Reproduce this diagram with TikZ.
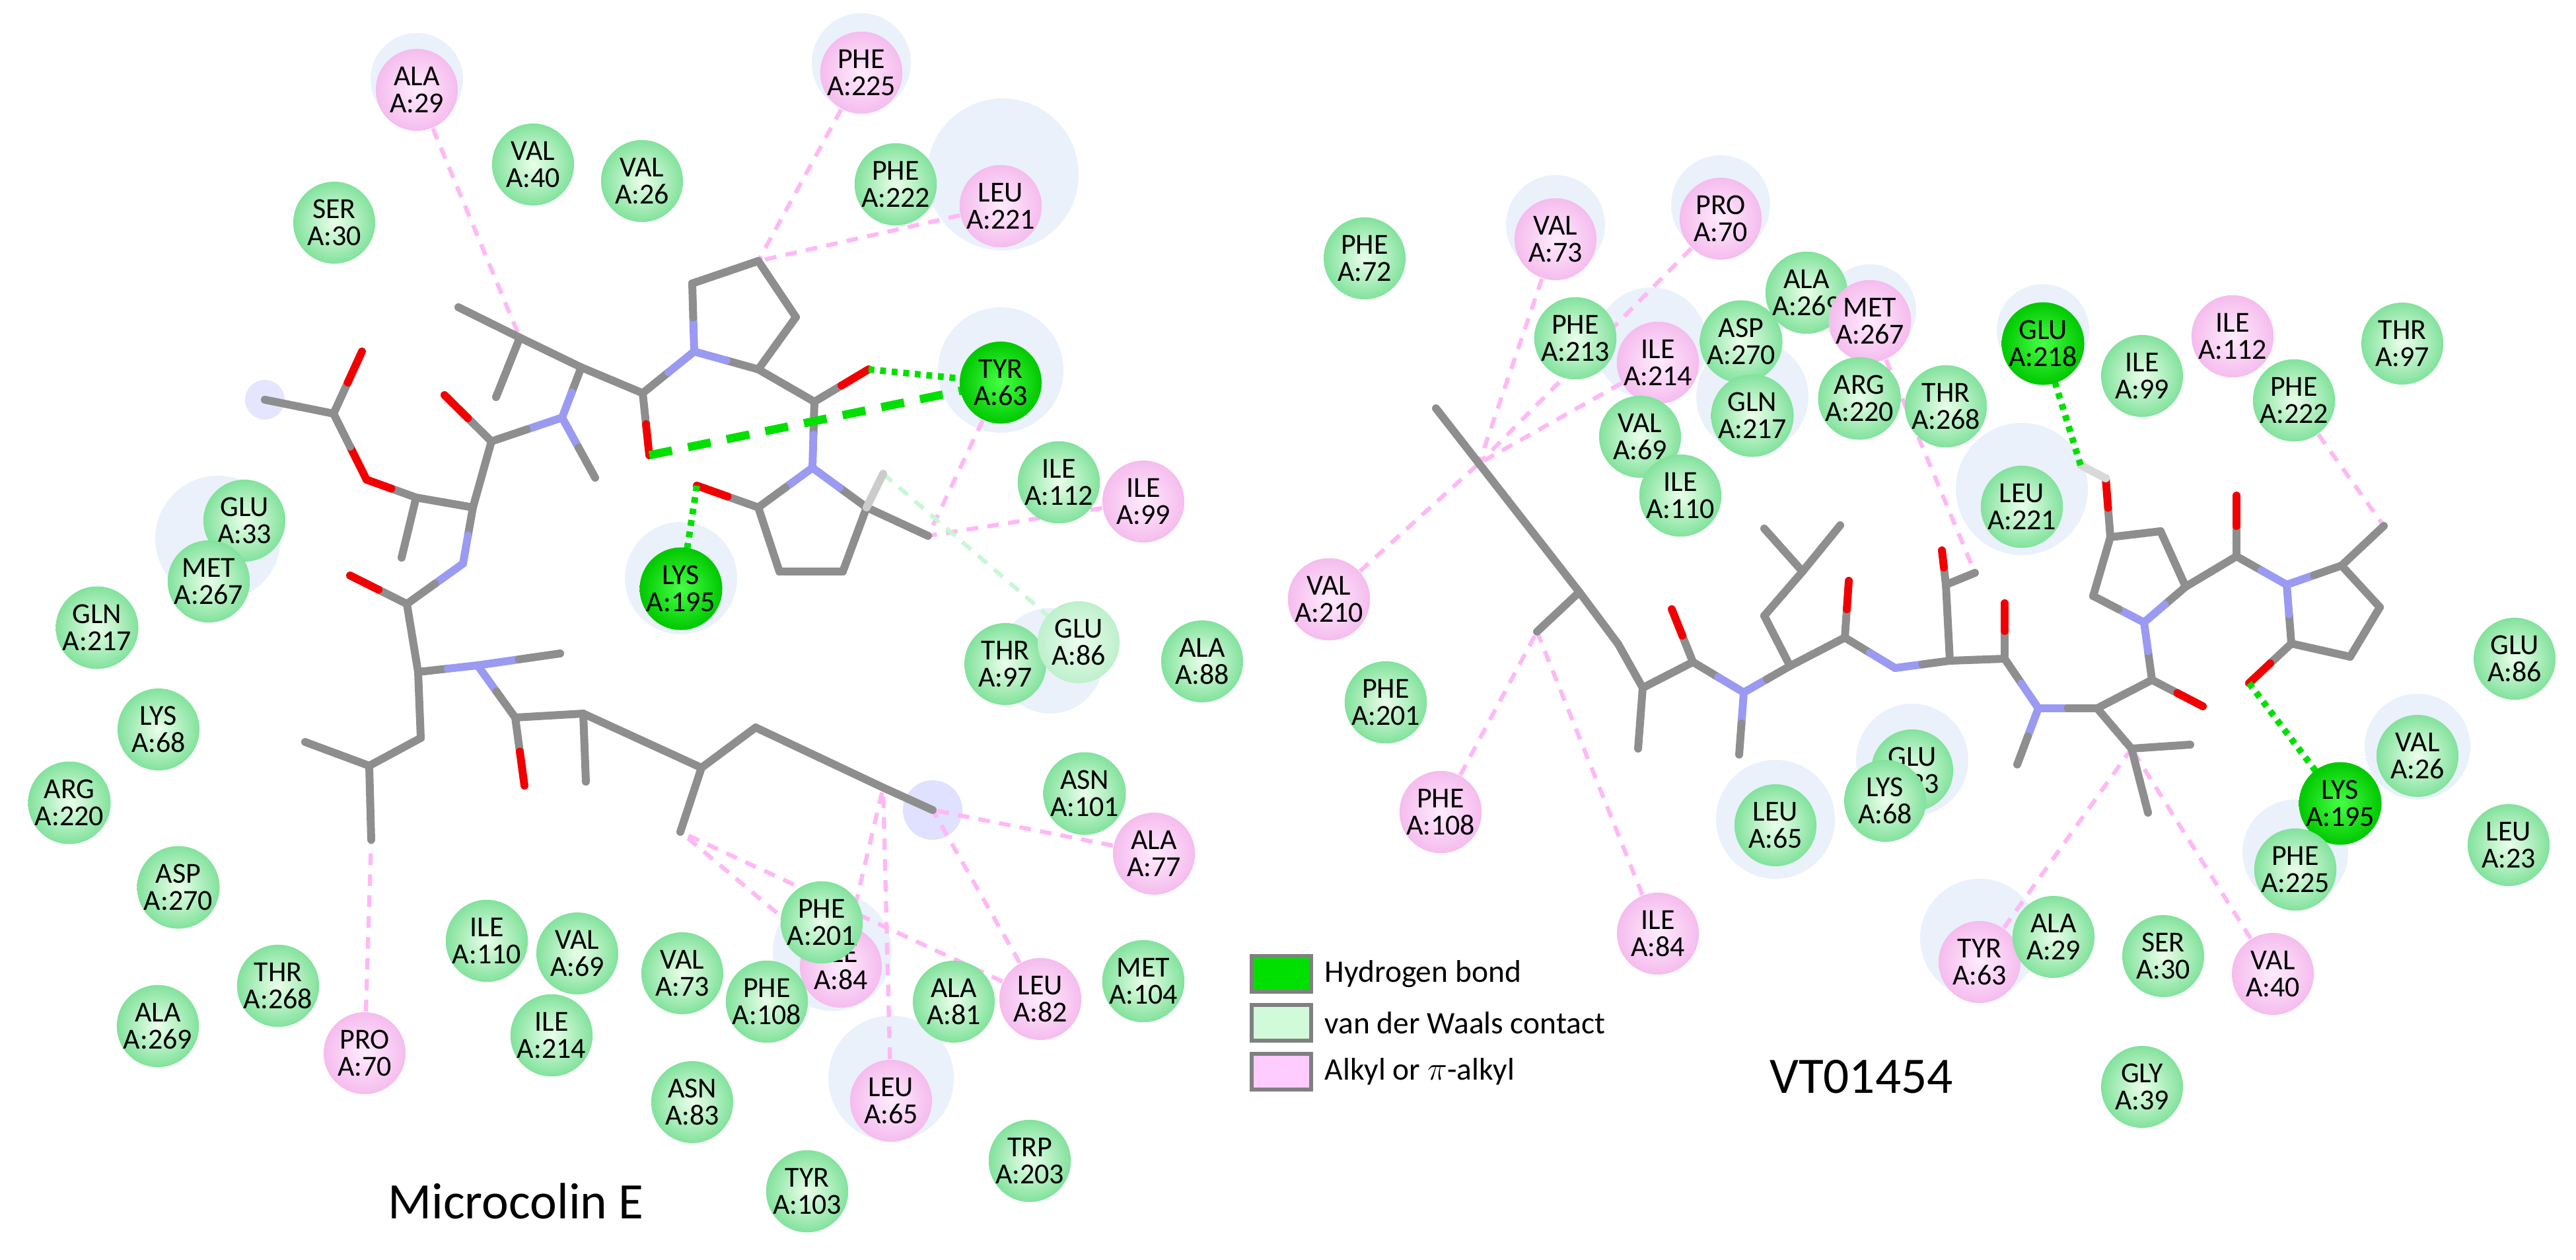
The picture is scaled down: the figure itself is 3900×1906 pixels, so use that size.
\documentclass[tikz,border=0pt]{standalone}
\usepackage{fontspec}
\setmainfont{Carlito}
\usetikzlibrary{calc}
\definecolor{cg}{HTML}{8E8E8E}
\definecolor{cn}{HTML}{9A9AF2}
\definecolor{co}{HTML}{F00000}
\definecolor{hb}{HTML}{00E000}
\definecolor{pk}{HTML}{FFB8F6}
\definecolor{vw}{HTML}{C8F7D6}
\definecolor{halo}{HTML}{EAF1FB}
\tikzset{
  res/.style={circle,minimum size=1.24cm,inner sep=0pt,align=center,font=\fontsize{12.5}{11.5}\selectfont},
  gres/.style={res,inner color=green!8!white,outer color={rgb,255:red,130;green,226;blue,156}},
  pres/.style={res,inner color={rgb,255:red,255;green,236;blue,253},outer color={rgb,255:red,245;green,188;blue,238}},
  hres/.style={res,inner color={rgb,255:red,70;green,255;blue,70},outer color={rgb,255:red,0;green,200;blue,0}},
  vres/.style={res,inner color={rgb,255:red,236;green,253;blue,240},outer color={rgb,255:red,190;green,240;blue,204}},
  stk/.style={line width=3.4pt,line cap=round},
  alk/.style={draw=pk,line width=1.8pt,dash pattern=on 5pt off 4pt},
  vdw/.style={draw=vw,line width=1.8pt,dash pattern=on 5pt off 4pt},
  hdot/.style={draw=hb,line width=2.8pt,dash pattern=on 2.5pt off 2.5pt},
  hdash/.style={draw=hb,line width=3.6pt,dash pattern=on 10pt off 7pt},
  lgbox/.style={draw=gray,line width=1.6pt,minimum width=0.9cm,minimum height=0.54cm,inner sep=0pt},
  lgtxt/.style={anchor=west,font=\fontsize{13.5}{14}\selectfont,inner sep=0pt}
}
\begin{document}
\begin{tikzpicture}[x=0.01cm,y=-0.01cm]
\useasboundingbox (0,0) rectangle (3900,1906);
% halos
\foreach \x/\y/\r in {1518/264/115,1515/560/95,1031/875/85,330/815/95,1304/95/75,631/120/70,1349/1632/95,1590/1000/80,1260/1440/90,
  2355/340/75,2605/310/75,2500/520/85,2653/600/85,2831/470/70,3061/740/100,3093/500/70,2688/1240/90,2895/1150/85,2997/1420/90,3475/1290/80,3660/1130/80}
  \fill[halo] (\x,\y) circle (\r);
\fill[blue!12] (1412,1226) circle (45);
\fill[blue!10] (401,605) circle (30);
% atoms
\foreach \n/\x/\y in {La/694/465,Lb/787/511,Lbm/751/601,Lc/880/556,Ln1/851/632,Ln1m/901/723,Lk1/973/595,Lo1/983/689,
  Lr1/1051/532,Lr2/1048/429,Lr3/1148/395,Lr4/1205/480,Lr5/1148/559,Lk2/1233/608,Lo2/1315/559,Ln2/1230/708,
  Ls1/1148/768,Ls2/1180/865,Ls3/1276/865,Ls4/1312/768,Lo3/1055/735,Lsm/1405/811,Lsh/1337/717,
  Lk3/744/668,Lo4/673/598,Lal/716/768,Lcb/630/753,Lo5/555/726,Lk4/505/626,Lme/401/605,Lo6/548/532,Lcbm/608/844,
  Ln3/701/853,Lk5/616/914,Lo7/530/871,Lal2/633/1017,Ln4/723/1007,Ln4m/848/989,Lc1/637/1117,Lc2/559/1159,Lc3/462/1123,Lc4/562/1271,
  Lk6/780/1086,Lo8/794/1189,Lc5/883/1080,Lc5m/887/1183,Lc6/1062/1162,Lc6m/1030/1259,Lc7/1144/1101,Lc8/1337/1192,Lc9/1412/1226,
  Ra/2174/618,Rb/2391/896,Rbm/2327/956,Rc/2450/975,Rd/2487/1041,Rdm/2480/1133,Rk1/2563/1002,Ro1/2531/922,Rn1/2640/1048,Rn1m/2633/1142,
  Ral1/2710/1008,Rx1/2671/932,Rx2/2729/865,Rx3/2671/800,Rx4/2786/795,Rk2/2793/965,Ro2/2799/879,Rn2/2869/1011,Ral2/2952/1000,
  Ry1/2946/885,Ro3/2940/833,Ry2/2990/867,Rk3/3035/997,Ro4/3035/913,Rn3/3086/1072,Rn3m/3054/1157,Ral3/3175/1072,
  Rz1/3227/1133,Rz2/3316/1127,Rz3/3252/1230,Rk4/3258/1029,Ro5/3335/1069,Rn5/3246/942,Rp1/3169/902,Rp2/3195/813,Rp3/3271/804,Rp4/3309/888,
  Ro6/3188/724,Rh/3150/704,Rk5/3386/842,Ro7/3386/750,Rn6/3462/885,Rq1/3545/856,Rq2/3603/919,Rq3/3558/994,Rq4/3469/974,Rqm/3609/796,Ro8/3405/1034}
  \coordinate (\n) at (\x,\y);
\coordinate (Rpt) at ($(Ra)!0.3!(Rb)$);
% residues (placed before lines so lines can use names)
\foreach \nm/\x/\y/\st/\ra/\rb in {
  lALA29/631/136/pres/ALA/A:29, lVAL40/807/249/gres/VAL/A:40, lVAL26/972/274/gres/VAL/A:26, lSER30/506/337/gres/SER/A:30,
  lPHE225/1304/110/pres/PHE/A:225, lPHE222/1356/279/gres/PHE/A:222, lLEU221/1515/312/pres/LEU/A:221, lTYR63/1515/579/hres/TYR/A:63,
  lILE112/1603/730/gres/ILE/A:112, lILE99/1731/759/pres/ILE/A:99, lGLU33/370/788/gres/GLU/A:33, lMET267/316/880/gres/MET/A:267,
  lGLN217/147/950/gres/GLN/A:217, lLYS195/1031/891/hres/LYS/A:195, lTHR97/1522/1005/gres/THR/A:97, lGLU86/1633/972/vres/GLU/A:86,
  lALA88/1820/1001/gres/ALA/A:88, lLYS68/240/1104/gres/LYS/A:68, lARG220/105/1215/gres/ARG/A:220, lASN101/1642/1201/gres/ASN/A:101,
  lALA77/1747/1292/pres/ALA/A:77, lASP270/270/1343/gres/ASP/A:270, lILE110/737/1424/gres/ILE/A:110, lVAL69/874/1443/gres/VAL/A:69,
  lVAL73/1033/1473/gres/VAL/A:73, lILE84/1273/1463/pres/ILE/A:84, lPHE201/1244/1396/gres/PHE/A:201, lPHE108/1161/1516/gres/PHE/A:108,
  lALA81/1444/1516/gres/ALA/A:81, lLEU82/1575/1512/pres/LEU/A:82, lMET104/1731/1485/gres/MET/A:104, lTHR268/421/1492/gres/THR/A:268,
  lALA269/239/1553/gres/ALA/A:269, lPRO70/552/1594/pres/PRO/A:70, lILE214/835/1567/gres/ILE/A:214, lASN83/1048/1668/gres/ASN/A:83,
  lLEU65/1349/1666/pres/LEU/A:65, lTRP203/1559/1757/gres/TRP/A:203, lTYR103/1222/1803/gres/TYR/A:103,
  rPHE72/2066/391/gres/PHE/A:72, rVAL73/2355/362/pres/VAL/A:73, rPRO70/2605/331/pres/PRO/A:70, rPHE213/2385/512/gres/PHE/A:213,
  rILE214/2510/549/pres/ILE/A:214, rASP270/2636/517/gres/ASP/A:270, rALA269/2735/443/gres/ALA/A:269, rMET267/2831/486/pres/MET/A:267,
  rGLN217/2653/629/gres/GLN/A:217, rARG220/2815/603/gres/ARG/A:220, rTHR268/2946/615/gres/THR/A:268, rVAL69/2483/661/gres/VAL/A:69,
  rILE110/2544/750/gres/ILE/A:110, rGLU218/3093/520/hres/GLU/A:218, rILE99/3243/569/gres/ILE/A:99, rILE112/3380/509/pres/ILE/A:112,
  rPHE222/3473/606/gres/PHE/A:222, rTHR97/3637/520/gres/THR/A:97, rLEU221/3061/767/gres/LEU/A:221, rVAL210/2012/907/pres/VAL/A:210,
  rGLU86/3807/997/gres/GLU/A:86, rPHE201/2098/1063/gres/PHE/A:201, rPHE108/2181/1229/pres/PHE/A:108, rLEU65/2688/1249/gres/LEU/A:65,
  rGLU33/2895/1166/gres/GLU/A:33, rLYS68/2854/1212/gres/LYS/A:68, rLYS195/3543/1216/hres/LYS/A:195, rVAL26/3660/1144/gres/VAL/A:26,
  rLEU23/3798/1279/gres/LEU/A:23, rPHE225/3475/1316/gres/PHE/A:225, rILE84/2510/1413/pres/ILE/A:84, rTYR63/2997/1456/pres/TYR/A:63,
  rALA29/3109/1418/gres/ALA/A:29, rSER30/3275/1447/gres/SER/A:30, rVAL40/3441/1474/pres/VAL/A:40, rGLY39/3243/1645/gres/GLY/A:39}
  \coordinate (\nm) at (\x,\y);
% interaction lines
\foreach \a/\b in {lALA29/Lb,lPHE225/Lr3,lLEU221/Lr3,lTYR63/Lsm,lILE99/Lsm,lALA77/Lc9,lLEU82/Lc9,lLEU82/Lc6m,lILE84/Lc6m,lILE84/Lc8,lLEU65/Lc8,lPRO70/Lc4,
  rVAL73/Rpt,rPRO70/Rpt,rILE214/Rpt,rVAL210/Rpt,rPHE108/Rbm,rILE84/Rbm,rMET267/Ry2,rPHE222/Rqm,rTYR63/Rz1,rVAL40/Rz1}
  \draw[alk] (\a) -- (\b);
\draw[vdw] (Lsh) -- (lGLU86);
% sticks
\foreach \a/\b/\ca/\cb in {La/Lb/cg/cg,Lb/Lbm/cg/cg,Lb/Lc/cg/cg,Lc/Ln1/cg/cn,Lc/Lk1/cg/cg,Lk1/Lo1/cg/co,Lk1/Lr1/cg/cn,Lr1/Lr2/cn/cg,Lr2/Lr3/cg/cg,
  Lr3/Lr4/cg/cg,Lr4/Lr5/cg/cg,Lr5/Lr1/cg/cn,Lr5/Lk2/cg/cg,Lk2/Lo2/cg/co,Lk2/Ln2/cg/cn,Ln2/Ls1/cn/cg,Ls1/Ls2/cg/cg,Ls2/Ls3/cg/cg,Ls3/Ls4/cg/cg,
  Ls4/Ln2/cg/cn,Ls1/Lo3/cg/co,Ls4/Lsm/cg/cg,Ln1/Ln1m/cn/cg,Ln1/Lk3/cn/cg,Lk3/Lo4/cg/co,Lk3/Lal/cg/cg,Lal/Lcb/cg/cg,Lcb/Lo5/cg/co,
  Lcb/Lcbm/cg/cg,Lo5/Lk4/co/cg,Lk4/Lme/cg/cg,Lk4/Lo6/cg/co,Lal/Ln3/cg/cn,Ln3/Lk5/cn/cg,Lk5/Lo7/cg/co,Lk5/Lal2/cg/cg,Lal2/Ln4/cg/cn,
  Ln4/Ln4m/cn/cg,Lal2/Lc1/cg/cg,Lc1/Lc2/cg/cg,Lc2/Lc3/cg/cg,Lc2/Lc4/cg/cg,Ln4/Lk6/cn/cg,Lk6/Lo8/cg/co,Lk6/Lc5/cg/cg,Lc5/Lc5m/cg/cg,
  Lc5/Lc6/cg/cg,Lc6/Lc6m/cg/cg,Lc6/Lc7/cg/cg,Lc7/Lc8/cg/cg,Lc8/Lc9/cg/cg,
  Ra/Rb/cg/cg,Rb/Rbm/cg/cg,Rb/Rc/cg/cg,Rc/Rd/cg/cg,Rd/Rdm/cg/cg,Rd/Rk1/cg/cg,Rk1/Ro1/cg/co,Rk1/Rn1/cg/cn,Rn1/Rn1m/cn/cg,Rn1/Ral1/cn/cg,
  Ral1/Rx1/cg/cg,Rx1/Rx2/cg/cg,Rx2/Rx3/cg/cg,Rx2/Rx4/cg/cg,Ral1/Rk2/cg/cg,Rk2/Ro2/cg/co,Rk2/Rn2/cg/cn,Rn2/Ral2/cn/cg,Ral2/Ry1/cg/cg,
  Ry1/Ro3/cg/co,Ry1/Ry2/cg/cg,Ral2/Rk3/cg/cg,Rk3/Ro4/cg/co,Rk3/Rn3/cg/cn,Rn3/Rn3m/cn/cg,Rn3/Ral3/cn/cg,Ral3/Rz1/cg/cg,Rz1/Rz2/cg/cg,
  Rz1/Rz3/cg/cg,Ral3/Rk4/cg/cg,Rk4/Ro5/cg/co,Rk4/Rn5/cg/cn,Rn5/Rp1/cn/cg,Rp1/Rp2/cg/cg,Rp2/Rp3/cg/cg,Rp3/Rp4/cg/cg,Rp4/Rn5/cg/cn,
  Rp2/Ro6/cg/co,Rp4/Rk5/cg/cg,Rk5/Ro7/cg/co,Rk5/Rn6/cg/cn,Rn6/Rq1/cn/cg,Rq1/Rq2/cg/cg,Rq2/Rq3/cg/cg,Rq3/Rq4/cg/cg,Rq4/Rn6/cg/cn,
  Rq1/Rqm/cg/cg,Rq4/Ro8/cg/co}
  {\draw[stk,\ca] (\a) -- ($(\a)!0.5!(\b)$); \draw[stk,\cb] ($(\a)!0.5!(\b)$) -- (\b);}
\draw[stk,gray!40] (Ls4) -- (Lsh);
\draw[stk,gray!30] (Ro6) -- (Rh);
% hydrogen bonds
\draw[hdot] (Lo2) -- (lTYR63);
\draw[hdash] (Lo1) -- (lTYR63);
\draw[hdot] (Lo3) -- (lLYS195);
\draw[hdot] (Rh) -- (rGLU218);
\draw[hdot] (Ro8) -- (rLYS195);
% residue discs
\foreach \nm/\x/\y/\st/\ra/\rb in {
  lALA29/631/136/pres/ALA/A:29, lVAL40/807/249/gres/VAL/A:40, lVAL26/972/274/gres/VAL/A:26, lSER30/506/337/gres/SER/A:30,
  lPHE225/1304/110/pres/PHE/A:225, lPHE222/1356/279/gres/PHE/A:222, lLEU221/1515/312/pres/LEU/A:221, lTYR63/1515/579/hres/TYR/A:63,
  lILE112/1603/730/gres/ILE/A:112, lILE99/1731/759/pres/ILE/A:99, lGLU33/370/788/gres/GLU/A:33, lMET267/316/880/gres/MET/A:267,
  lGLN217/147/950/gres/GLN/A:217, lLYS195/1031/891/hres/LYS/A:195, lTHR97/1522/1005/gres/THR/A:97, lGLU86/1633/972/vres/GLU/A:86,
  lALA88/1820/1001/gres/ALA/A:88, lLYS68/240/1104/gres/LYS/A:68, lARG220/105/1215/gres/ARG/A:220, lASN101/1642/1201/gres/ASN/A:101,
  lALA77/1747/1292/pres/ALA/A:77, lASP270/270/1343/gres/ASP/A:270, lILE110/737/1424/gres/ILE/A:110, lVAL69/874/1443/gres/VAL/A:69,
  lVAL73/1033/1473/gres/VAL/A:73, lILE84/1273/1463/pres/ILE/A:84, lPHE201/1244/1396/gres/PHE/A:201, lPHE108/1161/1516/gres/PHE/A:108,
  lALA81/1444/1516/gres/ALA/A:81, lLEU82/1575/1512/pres/LEU/A:82, lMET104/1731/1485/gres/MET/A:104, lTHR268/421/1492/gres/THR/A:268,
  lALA269/239/1553/gres/ALA/A:269, lPRO70/552/1594/pres/PRO/A:70, lILE214/835/1567/gres/ILE/A:214, lASN83/1048/1668/gres/ASN/A:83,
  lLEU65/1349/1666/pres/LEU/A:65, lTRP203/1559/1757/gres/TRP/A:203, lTYR103/1222/1803/gres/TYR/A:103,
  rPHE72/2066/391/gres/PHE/A:72, rVAL73/2355/362/pres/VAL/A:73, rPRO70/2605/331/pres/PRO/A:70, rPHE213/2385/512/gres/PHE/A:213,
  rILE214/2510/549/pres/ILE/A:214, rASP270/2636/517/gres/ASP/A:270, rALA269/2735/443/gres/ALA/A:269, rMET267/2831/486/pres/MET/A:267,
  rGLN217/2653/629/gres/GLN/A:217, rARG220/2815/603/gres/ARG/A:220, rTHR268/2946/615/gres/THR/A:268, rVAL69/2483/661/gres/VAL/A:69,
  rILE110/2544/750/gres/ILE/A:110, rGLU218/3093/520/hres/GLU/A:218, rILE99/3243/569/gres/ILE/A:99, rILE112/3380/509/pres/ILE/A:112,
  rPHE222/3473/606/gres/PHE/A:222, rTHR97/3637/520/gres/THR/A:97, rLEU221/3061/767/gres/LEU/A:221, rVAL210/2012/907/pres/VAL/A:210,
  rGLU86/3807/997/gres/GLU/A:86, rPHE201/2098/1063/gres/PHE/A:201, rPHE108/2181/1229/pres/PHE/A:108, rLEU65/2688/1249/gres/LEU/A:65,
  rGLU33/2895/1166/gres/GLU/A:33, rLYS68/2854/1212/gres/LYS/A:68, rLYS195/3543/1216/hres/LYS/A:195, rVAL26/3660/1144/gres/VAL/A:26,
  rLEU23/3798/1279/gres/LEU/A:23, rPHE225/3475/1316/gres/PHE/A:225, rILE84/2510/1413/pres/ILE/A:84, rTYR63/2997/1456/pres/TYR/A:63,
  rALA29/3109/1418/gres/ALA/A:29, rSER30/3275/1447/gres/SER/A:30, rVAL40/3441/1474/pres/VAL/A:40, rGLY39/3243/1645/gres/GLY/A:39}
  \node[\st] (n\nm) at (\x,\y) {\ra\\\rb};
% titles
\node[font=\fontsize{22}{24}\selectfont] (t1) at (781,1818) {Microcolin E};
\node[font=\fontsize{22}{24}\selectfont] (t2) at (2818,1630) {VT01454};
% legend
\node[lgbox,fill=hb] (lg1) at (1940,1474) {};
\node[lgbox,fill={rgb,255:red,208;green,250;blue,218}] (lg2) at (1940,1548) {};
\node[lgbox,fill={rgb,255:red,255;green,204;blue,255}] (lg3) at (1940,1622) {};
\node[lgtxt] (lt1) at (2005,1474) {Hydrogen bond};
\node[lgtxt] (lt2) at (2005,1548) {van der Waals contact};
\node[lgtxt] (lt3) at (2005,1622) {Alkyl or $\pi$-alkyl};
\end{tikzpicture}
\end{document}
